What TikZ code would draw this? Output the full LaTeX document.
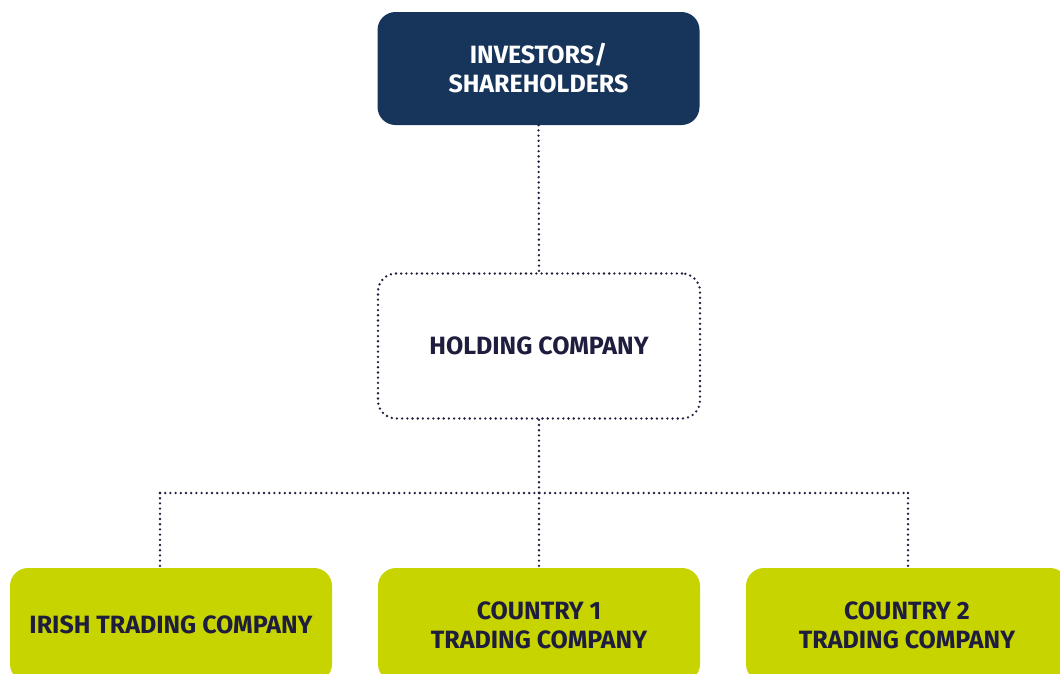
\documentclass[tikz,border=0pt]{standalone}
\usepackage{fontspec}
\setmainfont{Fira Sans}
\definecolor{navy}{HTML}{17355A}
\definecolor{ink}{HTML}{1E1D3D}
\definecolor{lime}{HTML}{C8D400}
\tikzset{
  box/.style={rounded corners=18pt, minimum width=322pt, align=center, inner sep=0pt,
    font=\fontsize{25}{29}\selectfont\bfseries},
  topbox/.style={box, fill=navy, text=white, minimum height=113pt},
  holdbox/.style={box, draw=ink, text=ink, minimum height=145pt, dotline},
  leafbox/.style={box, fill=lime, text=ink, minimum height=114pt},
  dotline/.style={line width=2.6pt, line cap=round, dash pattern=on 0pt off 5.2pt},
  conn/.style={draw=ink, dotline}
}
\begin{document}
\begin{tikzpicture}[x=1pt,y=-1pt]
\useasboundingbox (0,0) rectangle (1060,673);
\clip (0,0) rectangle (1060,673);
\node[topbox] (inv) at (538.5,68.5) {INVESTORS/\\SHAREHOLDERS};
\node[holdbox] (hold) at (539,346) {\raisebox{-2pt}{HOLDING COMPANY}};
\node[leafbox] (irish) at (171,625) {IRISH TRADING COMPANY};
\node[leafbox] (c1) at (539,625) {COUNTRY 1\\TRADING COMPANY};
\node[leafbox] (c2) at (907,625) {COUNTRY 2\\TRADING COMPANY};
\coordinate (J) at (539,493);
\coordinate (L) at (160,493);
\coordinate (R) at (908,493);
\draw[conn] (inv.south) -- (hold.north);
\draw[conn] (hold.south) -- (J);
\draw[conn] (L) -- (R);
\draw[conn] (L) -- (L |- irish.north);
\draw[conn] (J) -- (c1.north);
\draw[conn] (R) -- (R |- c2.north);
\end{tikzpicture}
\end{document}
